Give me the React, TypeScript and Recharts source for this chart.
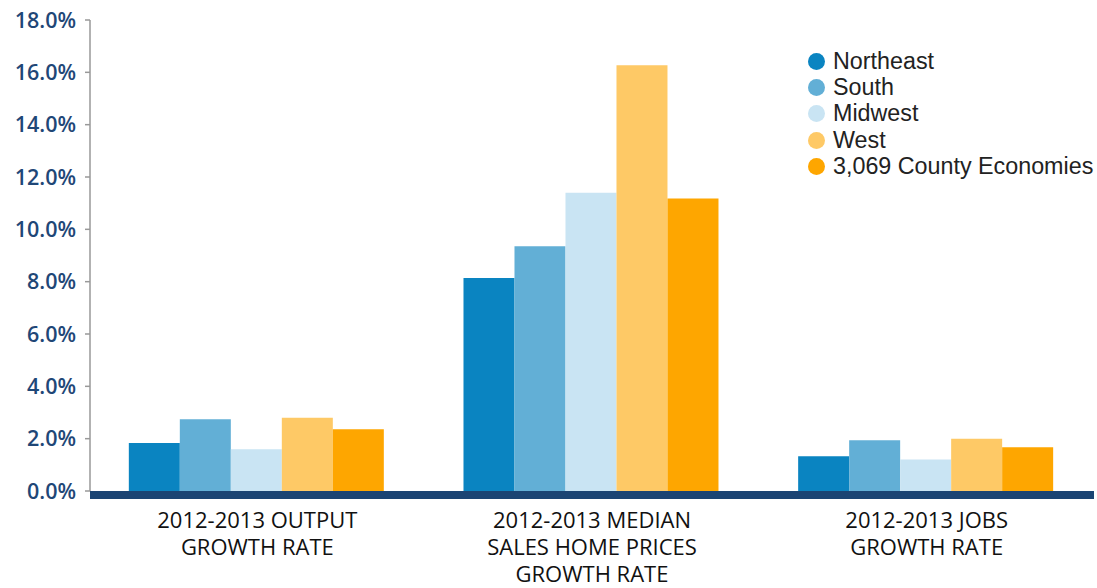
import { BarChart, Bar, XAxis, YAxis } from "recharts"

const categories = [
  "2012-2013 OUTPUT|GROWTH RATE",
  "2012-2013 MEDIAN|SALES HOME PRICES|GROWTH RATE",
  "2012-2013 JOBS|GROWTH RATE",
]
const northeast = [1.83, 8.14, 1.33]
const south = [2.74, 9.35, 1.94]
const midwest = [1.6, 11.4, 1.2]
const west = [2.8, 16.27, 2.0]
const county = [2.36, 11.18, 1.67]
const yTicks = [0, 2, 4, 6, 8, 10, 12, 14, 16, 18]

const series = [
  { key: "northeast", name: "Northeast", color: "#0a84c1" },
  { key: "south", name: "South", color: "#62afd6" },
  { key: "midwest", name: "Midwest", color: "#c9e4f3" },
  { key: "west", name: "West", color: "#fec966" },
  { key: "county", name: "3,069 County Economies", color: "#fea600" },
]

const data = categories.map((c, i) => ({
  category: c,
  northeast: northeast[i],
  south: south[i],
  midwest: midwest[i],
  west: west[i],
  county: county[i],
}))

const CategoryTick = ({ x, y, payload }: any) => {
  const lines = String(payload.value).split("|")
  return (
    <text x={x} y={y} textAnchor="middle" fill="#111" fontSize={22} fontFamily="'Open Sans', sans-serif">
      {lines.map((l, i) => (
        <tspan key={i} x={x} dy={i === 0 ? 29 : 27}>
          {l}
        </tspan>
      ))}
    </text>
  )
}

// legend sits over the plot, so it is drawn outside the chart to keep the full plot width
const LegendBox = () => (
  <div
    style={{
      position: "absolute",
      left: 808,
      top: 48,
      fontFamily: "'Liberation Sans', Arial, sans-serif",
      fontSize: 23.3,
      color: "#222",
    }}
  >
    {series.map((s) => (
      <div key={s.key} style={{ display: "flex", alignItems: "center", height: 26.3 }}>
        <span
          style={{
            display: "inline-block",
            width: 17,
            height: 17,
            borderRadius: 9,
            background: s.color,
            marginRight: 8,
          }}
        />
        {s.name}
      </div>
    ))}
  </div>
)

export default function App() {
  return (
    <div style={{ position: "absolute", left: 0, top: 0, width: 1097, height: 588, background: "#fff" }}>
      <BarChart
        width={1097}
        height={588}
        data={data}
        margin={{ top: 20, right: 3, left: 0, bottom: 0 }}
        barCategoryGap="11.6%"
        barGap={0}
      >
        <XAxis
          dataKey="category"
          height={97}
          tickLine={false}
          interval={0}
          tick={<CategoryTick />}
          axisLine={{ stroke: "#1b4473", strokeWidth: 8, transform: "translate(0,4)" }}
        />
        <YAxis
          width={90}
          domain={[0, 18]}
          ticks={yTicks}
          interval={0}
          tickSize={5}
          tickMargin={9}
          tickFormatter={(v: number) => `${v.toFixed(1)}%`}
          tick={{ fill: "#1f4777", fontSize: 21.5, fontWeight: 600, fontFamily: "'Open Sans', sans-serif" }}
          axisLine={{ stroke: "#999", strokeWidth: 1.5 }}
          tickLine={{ stroke: "#999", strokeWidth: 1.5 }}
        />
        {series.map((s) => (
          <Bar key={s.key} dataKey={s.key} name={s.name} fill={s.color} isAnimationActive={false} />
        ))}
      </BarChart>
      <LegendBox />
    </div>
  )
}
